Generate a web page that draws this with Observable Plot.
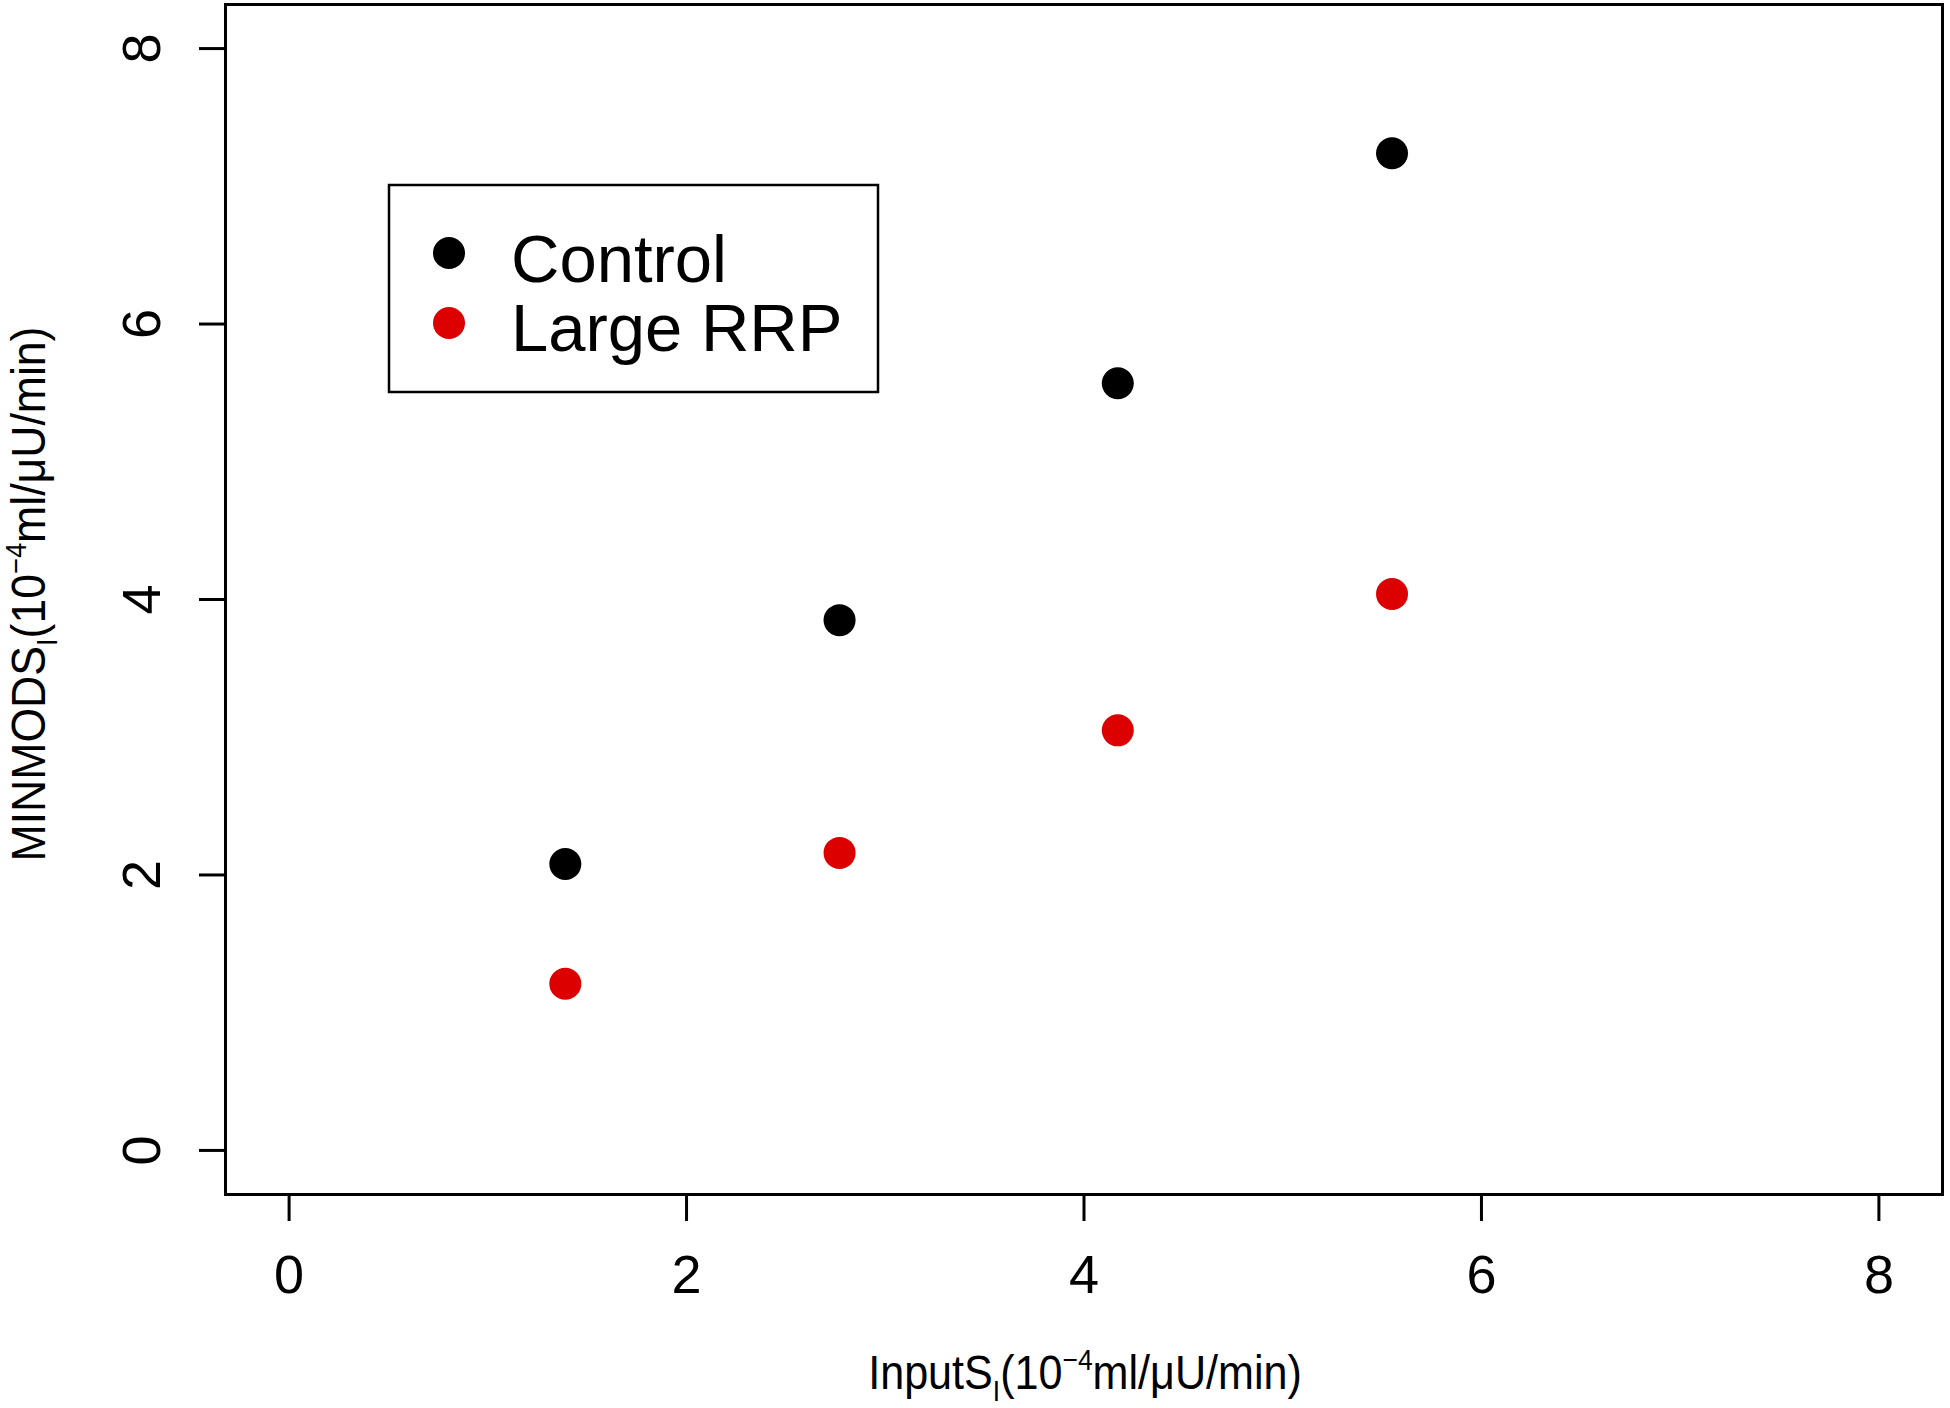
<!DOCTYPE html>
<html><head><meta charset="utf-8">
<script src="https://cdn.jsdelivr.net/npm/d3@7"></script>
<script src="https://cdn.jsdelivr.net/npm/@observablehq/plot@0.6"></script>
<style>body{margin:0;background:#fff} #chart svg{display:block}</style>
</head><body><div id="chart"></div>
<script>
// ---- data ----
const xValues = [1.39, 2.77, 4.17, 5.55];
const controlValues = [2.08, 3.85, 5.57, 7.24];
const largeRRPValues = [1.21, 2.16, 3.05, 4.04];
const seriesNames = ["Control", "Large RRP"];
const seriesColors = ["#000000", "#dd0000"];
const xTicks = [0, 2, 4, 6, 8];
const yTicks = [0, 2, 4, 6, 8];
const axisDomain = [-0.32, 8.32];
const xTitleParts = ["InputS", "I", "(10", "\u22124", "ml/\u03bcU/min)"];
const yTitleParts = ["MINMODS", "I", "(10", "\u22124", "ml/\u03bcU/min)"];

const points = [
  ...xValues.map((x, i) => ({x, y: controlValues[i], series: seriesNames[0]})),
  ...xValues.map((x, i) => ({x, y: largeRRPValues[i], series: seriesNames[1]}))
];

const W = 1950, H = 1408;
const chart = Plot.plot({
  width: W, height: H,
  marginLeft: 225, marginRight: 8, marginTop: 4, marginBottom: 214,
  style: {background: "#fff", fontFamily: "'Liberation Sans', Arial, sans-serif", color: "black"},
  x: {domain: axisDomain},
  y: {domain: axisDomain},
  color: {domain: seriesNames, range: seriesColors},
  marks: [
    Plot.axisX({ticks: xTicks, tickSize: 27, tickPadding: 33, fontSize: 54, label: null, strokeWidth: 3, tickFormat: d => String(d)}),
    Plot.axisY({ticks: yTicks, tickSize: 26, fill: "none", stroke: "black", strokeWidth: 3, label: null}),
    Plot.text(yTicks, {y: d => d, text: d => String(d), frameAnchor: "left", dx: -83, rotate: -90,
      textAnchor: "middle", lineAnchor: "middle", fontSize: 54, fill: "black"}),
    Plot.frame({stroke: "black", strokeWidth: 3}),
    Plot.dot(points, {x: "x", y: "y", fill: "series", r: 16, stroke: null})
  ]
});
document.getElementById("chart").appendChild(chart);

const svg = d3.select(chart);

// ---- legend (top-left inside the plot box) ----
const lg = svg.append("g");
lg.append("rect").attr("x", 389).attr("y", 185).attr("width", 489).attr("height", 207)
  .attr("fill", "white").attr("stroke", "black").attr("stroke-width", 2.5);
seriesNames.forEach((name, i) => {
  lg.append("circle").attr("cx", 449).attr("cy", 253 + 70 * i).attr("r", 16).attr("fill", seriesColors[i]);
  lg.append("text").attr("x", 511).attr("y", 282 + 69 * i).attr("text-anchor", "start")
    .attr("font-family", "'Liberation Sans', Arial, sans-serif").attr("font-size", 67)
    .attr("fill", "black").text(name);
});

// ---- axis titles with sub/superscripts (condensed like the reference) ----
function title(parts, transform) {
  const t = svg.append("text").attr("transform", transform).attr("text-anchor", "middle")
    .attr("font-family", "'Liberation Sans', Arial, sans-serif")
    .attr("font-size", 49).attr("fill", "black");
  t.append("tspan").text(parts[0]);
  t.append("tspan").attr("font-size", 30).attr("dy", 12).text(parts[1]);
  t.append("tspan").attr("dy", -12).text(parts[2]);
  t.append("tspan").attr("font-size", 30).attr("dy", -19).text(parts[3]);
  t.append("tspan").attr("dy", 19).text(parts[4]);
}
title(xTitleParts, "translate(1085,1389) scale(0.88,1)");
title(yTitleParts, "translate(45,594) rotate(-90) scale(0.91,1)");
</script>
</body></html>
